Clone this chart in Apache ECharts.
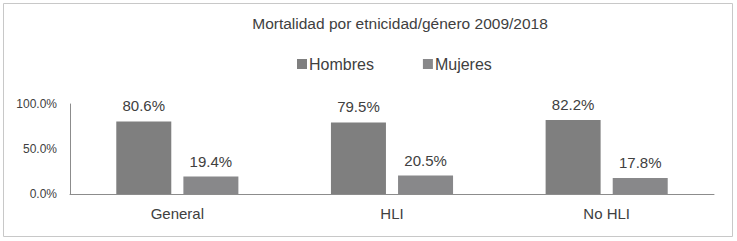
<!DOCTYPE html>
<html>
<head>
<meta charset="utf-8">
<script src="https://cdn.jsdelivr.net/npm/echarts@6/dist/echarts.min.js"></script>
<style>
  html, body { margin: 0; padding: 0; background: #fff; }
  #main { width: 737px; height: 241px; }
</style>
</head>
<body>
<div id="main"></div>
<script>
var chartDom = document.getElementById('main');
var myChart = echarts.init(chartDom, null, {
    renderer: 'svg'
});
var option;

const categories = ['General', 'HLI', 'No HLI'];
const hombres = [80.6, 79.5, 82.2];
const mujeres = [19.4, 20.5, 17.8];
const yTicks = [0, 50, 100];

const font = "'Liberation Sans', Arial, sans-serif";
const labelStyle = {
    show: true,
    position: 'top',
    distance: 8,
    color: '#404040',
    fontSize: 15,
    fontFamily: font,
    formatter: p => p.value.toFixed(1) + '%'
};

option = {
    animation: false,
    title: {
        text: 'Mortalidad por etnicidad/género 2009/2018',
        left: 395,
        textAlign: 'center',
        top: 10,
        textStyle: {
            color: '#404040',
            fontSize: 15.5,
            fontWeight: 'normal',
            fontFamily: font
        }
    },
    legend: {
        top: 51,
        left: 292,
        itemGap: 49,
        itemWidth: 10,
        itemHeight: 10,
        icon: 'rect',
        textStyle: {
            color: '#404040',
            fontSize: 16,
            fontFamily: font,
            padding: [0, 0, 0, -3]
        }
    },
    graphic: [{
        type: 'rect',
        shape: { x: 3.5, y: 3.5, width: 729, height: 233 },
        style: { fill: 'none', stroke: '#c8c8c8', lineWidth: 1 },
        silent: true
    }],
    grid: {
        left: 70,
        right: 23,
        top: 104,
        bottom: 47
    },
    xAxis: {
        type: 'category',
        data: categories,
        axisTick: { show: false },
        axisLine: { lineStyle: { color: '#8c8c8c' } },
        axisLabel: {
            color: '#404040',
            fontSize: 15,
            fontFamily: font,
            margin: 12
        }
    },
    yAxis: {
        type: 'value',
        min: yTicks[0],
        max: yTicks[yTicks.length - 1],
        interval: 50,
        splitLine: { show: false },
        axisTick: { show: false },
        axisLine: { show: true, lineStyle: { color: '#8c8c8c' } },
        axisLabel: {
            color: '#404040',
            fontSize: 12,
            fontFamily: font,
            margin: 13,
            formatter: v => v.toFixed(1) + '%'
        }
    },
    series: [
        {
            name: 'Hombres',
            type: 'bar',
            data: hombres,
            barWidth: 55,
            barGap: '22%',
            itemStyle: { color: '#7f7f7f' },
            label: labelStyle
        },
        {
            name: 'Mujeres',
            type: 'bar',
            data: mujeres,
            barWidth: 55,
            itemStyle: { color: '#88888a' },
            label: labelStyle
        }
    ]
};
option && myChart.setOption(option);
</script>
</body>
</html>
